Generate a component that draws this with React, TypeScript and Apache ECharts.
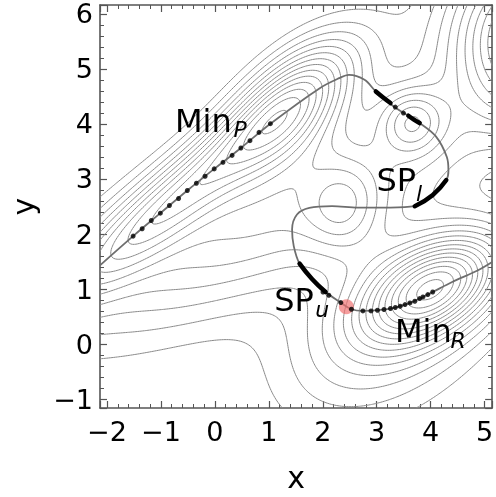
import React, { useEffect, useRef } from 'react';
import * as echarts from 'echarts';

// axis extents
const xRange = [-2.13, 5.14];
const yRange = [-1.16, 6.16];

// potential surface: Gaussian wells (depth, centre, orientation, widths)
const wellDepth = [-10, -7.5, -6.5, -13, -5, -3.5, -5, -13];
const wellX = [1.4, -0.7, 1.0, 4.1, 3.2, 2.4, 3.65, 6.0];
const wellY = [4.3, 2.7, 2.3, 1.05, 0.3, 2.45, 4.05, 5.6];
const wellAngle = [45, 40, 25, 28, 35, 90, 0, 0];
const wellSu = [1.1, 2.0, 3.0, 1.0, 1.6, 0.6, 0.42, 1.08];
const wellSv = [0.55, 0.42, 0.95, 0.55, 1.0, 0.5, 0.42, 1.08];

const contourLevels = [
  -24.6, -23.6, -22.6, -21.6, -20.6, -19.6, -18.6, -17.6, -16.6, -15.6, -14.6, -13.6, -12.6,
  -11.6, -10.6, -9.6, -8.6, -7.6, -6.6, -5.6, -4.6, -3.6, -2.6, -1.6,
];

// minimum energy path (grey line)
const pathX = [-2.13, -1.516, -1.011, -0.511, -0.013, 0.482, 1.029, 1.944, 2.305, 2.486, 2.774, 2.984, 3.316, 3.796, 4.097, 4.3, 4.33, 4.29, 4.04, 3.706, 3.249, 2.653, 2.172, 1.751, 1.522, 1.431, 1.462, 1.57, 1.805, 2.052, 2.334, 2.532, 2.744, 3.014, 3.345, 3.616, 3.857, 4.038, 4.399, 4.879, 5.14];
const pathY = [1.431, 1.962, 2.379, 2.79, 3.183, 3.563, 4.004, 4.65, 4.832, 4.891, 4.801, 4.589, 4.317, 4.016, 3.774, 3.4, 3.15, 2.98, 2.71, 2.505, 2.48, 2.48, 2.505, 2.476, 2.355, 2.083, 1.781, 1.462, 1.178, 0.947, 0.755, 0.634, 0.603, 0.616, 0.665, 0.748, 0.857, 0.947, 1.129, 1.341, 1.49];

// images (black dots)
const imageX = [-1.516, -1.348, -1.179, -1.011, -0.843, -0.673, -0.511, -0.343, -0.181, -0.013, 0.15, 0.319, 0.482, 0.65, 0.818, 1.029,
  3.345, 3.496,
  2.004, 2.112, 2.334, 2.532, 2.744, 2.894, 3.014, 3.135, 3.255, 3.345, 3.435, 3.525, 3.616, 3.706, 3.796, 3.857, 3.948, 4.038];
const imageY = [1.962, 2.096, 2.246, 2.379, 2.518, 2.645, 2.79, 2.922, 3.049, 3.183, 3.303, 3.429, 3.563, 3.696, 3.846, 4.004,
  4.306, 4.197,
  0.947, 0.888, 0.755, 0.634, 0.603, 0.603, 0.616, 0.629, 0.647, 0.665, 0.688, 0.719, 0.748, 0.779, 0.828, 0.857, 0.9, 0.947];

// dense image clusters (thick black segments)
const clusterA_X = [2.984, 3.12, 3.255];
const clusterA_Y = [4.589, 4.48, 4.379];
const clusterB_X = [3.587, 3.69, 3.796];
const clusterB_Y = [4.149, 4.08, 4.016];
const spLowerX = [4.29, 4.04, 3.706];
const spLowerY = [2.98, 2.71, 2.505];
const spUpperX = [1.57, 1.805, 2.052];
const spUpperY = [1.462, 1.178, 0.947];

// highlighted point
const markX = [2.437];
const markY = [0.679];

// annotations
const labelText = ['Min', 'P', 'SP', 'l', 'SP', 'u', 'Min', 'R'];
const labelX = [-0.74, 0.343, 2.996, 3.73, 1.101, 1.86, 3.339, 4.37];
const labelY = [4.058, 3.906, 2.978, 2.734, 0.797, 0.634, 0.243, 0.06];
const labelSize = [32, 22, 32, 22, 32, 22, 32, 22];

const FONT = 'DejaVu Sans';

function potential(x: number, y: number): number {
  let v = 0;
  for (let k = 0; k < wellDepth.length; k++) {
    const a = (wellAngle[k] * Math.PI) / 180;
    const dx = x - wellX[k];
    const dy = y - wellY[k];
    const u = dx * Math.cos(a) + dy * Math.sin(a);
    const w = -dx * Math.sin(a) + dy * Math.cos(a);
    v += wellDepth[k] * Math.exp(-0.5 * ((u * u) / (wellSu[k] * wellSu[k]) + (w * w) / (wellSv[k] * wellSv[k])));
  }
  return v;
}

type P = [number, number];

function traceLevel(grid: number[][], xs: number[], ys: number[], lvl: number): P[][] {
  const nx = xs.length;
  const ny = ys.length;
  const pts = new Map<string, P>();
  const adj = new Map<string, string[]>();
  const link = (a: string, b: string) => {
    if (!adj.has(a)) adj.set(a, []);
    if (!adj.has(b)) adj.set(b, []);
    adj.get(a)!.push(b);
    adj.get(b)!.push(a);
  };
  const ep = (key: string, x0: number, y0: number, v0: number, x1: number, y1: number, v1: number) => {
    if (!pts.has(key)) {
      const t = (lvl - v0) / (v1 - v0);
      pts.set(key, [x0 + t * (x1 - x0), y0 + t * (y1 - y0)]);
    }
    return key;
  };
  for (let j = 0; j < ny - 1; j++) {
    for (let i = 0; i < nx - 1; i++) {
      const v0 = grid[j][i], v1 = grid[j][i + 1], v2 = grid[j + 1][i + 1], v3 = grid[j + 1][i];
      const s0 = v0 > lvl, s1 = v1 > lvl, s2 = v2 > lvl, s3 = v3 > lvl;
      const B = s0 !== s1 ? ep(`h${j}_${i}`, xs[i], ys[j], v0, xs[i + 1], ys[j], v1) : null;
      const R = s1 !== s2 ? ep(`v${j}_${i + 1}`, xs[i + 1], ys[j], v1, xs[i + 1], ys[j + 1], v2) : null;
      const T = s3 !== s2 ? ep(`h${j + 1}_${i}`, xs[i], ys[j + 1], v3, xs[i + 1], ys[j + 1], v2) : null;
      const L = s0 !== s3 ? ep(`v${j}_${i}`, xs[i], ys[j], v0, xs[i], ys[j + 1], v3) : null;
      const e = [B, R, T, L].filter((q) => q !== null) as string[];
      if (e.length === 2) link(e[0], e[1]);
      else if (e.length === 4) {
        const c = (v0 + v1 + v2 + v3) / 4 > lvl;
        if (c === s0) {
          link(B!, R!);
          link(T!, L!);
        } else {
          link(L!, B!);
          link(R!, T!);
        }
      }
    }
  }
  const seen = new Set<string>();
  const chains: P[][] = [];
  const walk = (start: string, closed: boolean) => {
    const out: P[] = [];
    let prev: string | null = null;
    let cur: string | null = start;
    while (cur !== null) {
      seen.add(cur);
      out.push(pts.get(cur)!);
      const nb: string[] = adj.get(cur) || [];
      let nxt: string | null = null;
      for (const n of nb) {
        if (n !== prev && !seen.has(n)) {
          nxt = n;
          break;
        }
      }
      prev = cur;
      cur = nxt;
    }
    if (closed) out.push(pts.get(start)!);
    if (out.length > 1) chains.push(out);
  };
  for (const [k, nb] of adj) if (nb.length === 1 && !seen.has(k)) walk(k, false);
  for (const k of adj.keys()) if (!seen.has(k)) walk(k, true);
  return chains;
}

function buildContours(): P[][] {
  const nx = 230;
  const ny = 230;
  const xs: number[] = [];
  const ys: number[] = [];
  for (let i = 0; i < nx; i++) xs.push(xRange[0] + ((xRange[1] - xRange[0]) * i) / (nx - 1));
  for (let j = 0; j < ny; j++) ys.push(yRange[0] + ((yRange[1] - yRange[0]) * j) / (ny - 1));
  const grid: number[][] = ys.map((y) => xs.map((x) => potential(x, y)));
  const all: P[][] = [];
  for (const lvl of contourLevels) all.push(...traceLevel(grid, xs, ys, lvl));
  return all;
}

const zip = (a: number[], b: number[]) => a.map((v, i) => [v, b[i]]);
const fmt = (v: number) => (Math.abs(v - Math.round(v)) < 1e-9 ? (v < 0 ? '\u2212' + Math.abs(v) : String(v)) : '');

export default function App() {
  const ref = useRef<HTMLDivElement>(null);
  useEffect(() => {
    if (!ref.current) return;
    const chart = echarts.init(ref.current, undefined, { renderer: 'svg' });
    const axisColor = '#555555';
    const tickCommon = {
      axisLine: { show: true, onZero: false, lineStyle: { color: axisColor, width: 1.6 } },
      axisTick: { show: true, inside: true, length: 7, lineStyle: { color: axisColor, width: 1.2 } },
      minorTick: { show: true, splitNumber: 5, length: 4, lineStyle: { color: axisColor, width: 1 } },
      splitLine: { show: false },
      splitNumber: 7,
    };
    const labelStyle = { fontFamily: FONT, fontSize: 27, color: '#000', formatter: fmt };
    const contours = buildContours();
    const option: any = {
      animation: false,
      grid: { left: 91, right: 2, top: 5, bottom: 88, containLabel: false },
      xAxis: [
        {
          type: 'value', min: xRange[0], max: xRange[1], position: 'bottom', ...tickCommon,
          axisLabel: { ...labelStyle, margin: 10 },
          name: 'x', nameLocation: 'middle', nameGap: 54,
          nameTextStyle: { fontFamily: FONT, fontSize: 30, color: '#000' },
        },
        {
          type: 'value', min: xRange[0], max: xRange[1], position: 'top', ...tickCommon,
          axisLabel: { show: false },
        },
      ],
      yAxis: [
        {
          type: 'value', min: yRange[0], max: yRange[1], position: 'left', ...tickCommon,
          axisLabel: { ...labelStyle, margin: 7 },
          name: 'y', nameLocation: 'middle', nameGap: 62,
          nameTextStyle: { fontFamily: FONT, fontSize: 30, color: '#000' },
        },
        {
          type: 'value', min: yRange[0], max: yRange[1], position: 'right', ...tickCommon,
          axisLabel: { show: false },
        },
      ],
      series: [
        {
          type: 'lines', coordinateSystem: 'cartesian2d', polyline: true, large: false, silent: true,
          data: contours.map((c) => ({ coords: c })),
          lineStyle: { color: '#8a8a8a', width: 1, opacity: 1 },
          z: 1,
        },
        {
          type: 'line', data: zip(pathX, pathY), smooth: 0.35, showSymbol: false, silent: true,
          lineStyle: { color: '#6e6e6e', width: 1.8 }, z: 2,
        },
        {
          type: 'scatter', data: zip(markX, markY), symbolSize: 15, silent: true,
          itemStyle: { color: 'rgba(240,110,110,0.85)' }, z: 3,
        },
        ...[
          [spLowerX, spLowerY],
          [spUpperX, spUpperY],
          [clusterA_X, clusterA_Y],
          [clusterB_X, clusterB_Y],
        ].map(([a, b]) => ({
          type: 'line', data: zip(a, b), smooth: true, showSymbol: false, silent: true,
          lineStyle: { color: '#000', width: 4.5, cap: 'round' }, z: 4,
        })),
        {
          type: 'scatter', data: zip(imageX, imageY), symbolSize: 5, silent: true,
          itemStyle: { color: '#000' }, z: 5,
        },
      ],
    };
    chart.setOption(option);
    const graphic = labelText.map((t, i) => {
      const [px, py] = chart.convertToPixel({ gridIndex: 0 }, [labelX[i], labelY[i]]) as number[];
      return {
        type: 'text', x: px, y: py, z: 10,
        style: {
          text: t, fontFamily: FONT, fontSize: labelSize[i], fill: '#000',
          fontStyle: labelSize[i] < 30 ? 'italic' : 'normal',
          textAlign: 'left', textVerticalAlign: 'middle',
        },
      };
    });
    chart.setOption({ graphic });
    return () => chart.dispose();
  }, []);
  return <div ref={ref} style={{ position: 'fixed', left: 0, top: 0, width: 496, height: 497 }} />;
}
